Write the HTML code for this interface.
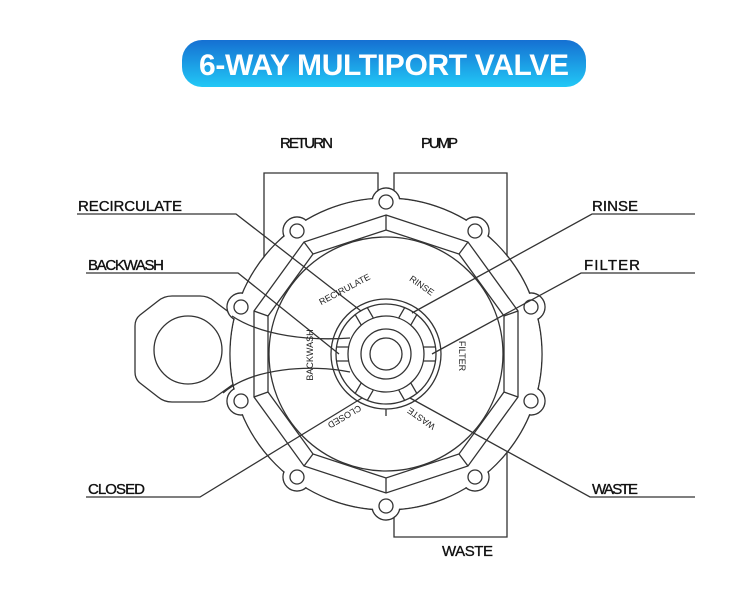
<!DOCTYPE html>
<html><head><meta charset="utf-8"><style>
html,body{margin:0;padding:0;background:#fff;}
svg{display:block;}
.t{font-family:"Liberation Sans",sans-serif;font-size:15px;fill:#111;stroke:#111;stroke-width:0.35;}
.s{font-family:"Liberation Sans",sans-serif;font-size:9px;fill:#222;}
</style></head><body>
<svg width="750" height="589" viewBox="0 0 750 589" xmlns="http://www.w3.org/2000/svg">
<defs><linearGradient id="g" x1="0" y1="0" x2="0" y2="1"><stop offset="0" stop-color="#1570d2"/><stop offset="1" stop-color="#22c8f6"/></linearGradient></defs>
<rect x="182" y="40" width="404" height="47" rx="20" fill="url(#g)"/>
<text x="384" y="75" text-anchor="middle" font-family="Liberation Sans,sans-serif" font-weight="bold" font-size="30" fill="#fff" textLength="370">6-WAY MULTIPORT VALVE</text>

<g fill="none" stroke="#333" stroke-width="1.3">
<polyline points="264,300 264,173 378,173 378,200"/>
<polyline points="394,200 394,173 507,173 507,537 394,537 394,500"/>
<path d="M172,296 L200,296 Q208,296 214,301 L242,322 L242,378 L214,398 Q208,402 200,402 L172,402 Q164,402 158,397 L140,383 Q135,379 135,372 L135,326 Q135,319 140,315 L158,301 Q164,296 172,296 Z" fill="#fff"/>
</g>

<g fill="none" stroke="#333" stroke-width="1.4">
<circle cx="386" cy="354" r="156"/>
<circle cx="386" cy="202" r="14"/><circle cx="475" cy="231" r="14"/><circle cx="531" cy="307" r="14"/><circle cx="531" cy="401" r="14"/><circle cx="475" cy="477" r="14"/><circle cx="386" cy="506" r="14"/><circle cx="297" cy="477" r="14"/><circle cx="241" cy="401" r="14"/><circle cx="241" cy="307" r="14"/><circle cx="297" cy="231" r="14"/>
</g>
<g fill="#fff">
<circle cx="386" cy="354" r="155.3"/>
<circle cx="386" cy="202" r="13.3"/><circle cx="475" cy="231" r="13.3"/><circle cx="531" cy="307" r="13.3"/><circle cx="531" cy="401" r="13.3"/><circle cx="475" cy="477" r="13.3"/><circle cx="386" cy="506" r="13.3"/><circle cx="297" cy="477" r="13.3"/><circle cx="241" cy="401" r="13.3"/><circle cx="241" cy="307" r="13.3"/><circle cx="297" cy="231" r="13.3"/>
</g>
<g fill="none" stroke="#333" stroke-width="1.3">
<circle cx="188" cy="350" r="34"/>
<circle cx="386" cy="202" r="7"/><circle cx="475" cy="231" r="7"/><circle cx="531" cy="307" r="7"/><circle cx="531" cy="401" r="7"/><circle cx="475" cy="477" r="7"/><circle cx="386" cy="506" r="7"/><circle cx="297" cy="477" r="7"/><circle cx="241" cy="401" r="7"/><circle cx="241" cy="307" r="7"/><circle cx="297" cy="231" r="7"/>
<polygon points="386,215 468,242 518,311 518,397 468,466 386,493 304,466 254,397 254,311 304,242"/>
<polygon points="386,230 459,254 504,316 504,392 459,454 386,478 313,454 268,392 268,316 313,254"/>
<path d="M386,215L386,230M468,242L459,254M518,311L504,316M518,397L504,392M468,466L459,454M386,493L386,478M304,466L313,454M254,397L268,392M254,311L268,316M304,242L313,254"/>
<circle cx="386" cy="354" r="117"/>
<circle cx="386" cy="354" r="55"/>
<circle cx="386" cy="354" r="50"/>
<circle cx="386" cy="354" r="38"/>
<circle cx="386" cy="354" r="25"/>
<circle cx="386" cy="354" r="16"/>
<path d="M386,409 L386,416"/>
<g id="sl"><path d="M423,347 L436,347 M423,361 L436,361"/></g>
<use href="#sl" transform="rotate(-60 386 354)"/>
<use href="#sl" transform="rotate(-120 386 354)"/>
<use href="#sl" transform="rotate(60 386 354)"/>
<use href="#sl" transform="rotate(120 386 354)"/>
<use href="#sl" transform="rotate(180 386 354)"/>
<path d="M232,316 C262,336 310,341 350,338"/>
<path d="M223,393 C252,368 310,364 350,372"/>
<polyline points="77,214 236,214 361,311"/>
<polyline points="86,273 238,273 339,354"/>
<polyline points="86,497 200,497 362,398"/>
<polyline points="695,214 592,214 412,313"/>
<polyline points="695,273 581,273 432,354"/>
<polyline points="695,497 590,497 410,398"/>
</g>

<text class="t" x="78" y="211" textLength="104">RECIRCULATE</text>
<text class="t" x="88" y="270" textLength="76">BACKWASH</text>
<text class="t" x="88" y="494" textLength="57">CLOSED</text>
<text class="t" x="592" y="211" textLength="46">RINSE</text>
<text class="t" x="584" y="270" textLength="56">FILTER</text>
<text class="t" x="592" y="494" textLength="46">WASTE</text>
<text class="t" x="280" y="148" textLength="53">RETURN</text>
<text class="t" x="421" y="148" textLength="37">PUMP</text>
<text class="t" x="442" y="556" textLength="51">WASTE</text>

<text class="s" text-anchor="middle" transform="translate(346,292) rotate(-28)">RECIRULATE</text>
<text class="s" text-anchor="middle" transform="translate(420,288) rotate(35)">RINSE</text>
<text class="s" text-anchor="middle" transform="translate(459,356) rotate(90)">FILTER</text>
<text class="s" text-anchor="middle" transform="translate(423,416) rotate(215)">WASTE</text>
<text class="s" text-anchor="middle" transform="translate(343,414) rotate(150)">CLOSED</text>
<text class="s" text-anchor="middle" transform="translate(313,355) rotate(-90)">BACKWASH</text>
</svg>
</body></html>
